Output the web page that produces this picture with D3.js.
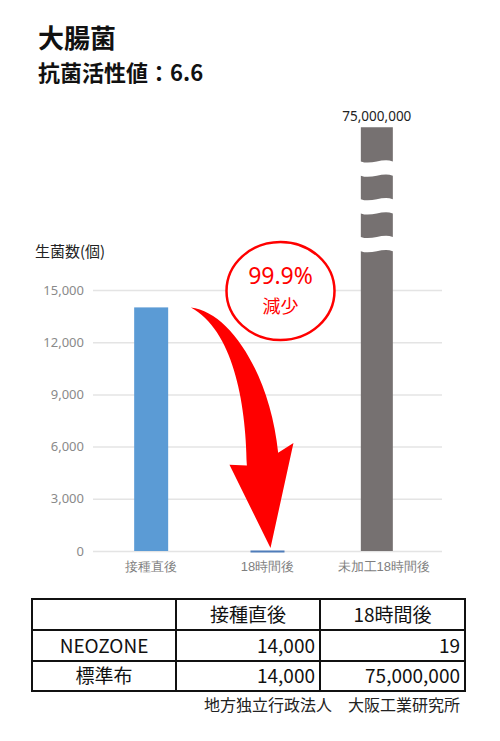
<!DOCTYPE html>
<html>
<head>
<meta charset="utf-8">
<script src="https://cdn.jsdelivr.net/npm/d3@7"></script>
<style>
  body { margin: 0; background: #fff; }
  svg { display: block; font-family: "Noto Sans CJK JP", "Noto Sans", sans-serif; }
</style>
</head>
<body>
<svg id="chart" width="500" height="741"></svg>
<script>
// data
const categories = ['接種直後', '18時間後', '未加工18時間後'];
const counts = [14000, 19, 75000000];
const yTicks = [0, 3000, 6000, 9000, 12000, 15000];
const tableHeader = ['', '接種直後', '18時間後'];
const tableRowNames = ['NEOZONE', '標準布'];
const tableStart = [14000, 14000];
const table18h = [19, 75000000];

const svg = d3.select('#chart');

const plot = {left: 93, right: 442, top: 290, bottom: 551};
const fmt = d3.format(',');

// title
svg.append('text').attr('x', 38).attr('y', 48)
  .style('font-size', '26px').style('font-weight', 700).attr('fill', '#111')
  .text('大腸菌');
svg.append('text').attr('x', 38).attr('y', 81)
  .style('font-size', '22px').style('font-weight', 700).attr('fill', '#111')
  .text('抗菌活性値：6.6');

const x = d3.scaleBand().domain(categories).range([plot.left, plot.right]).padding(0);
const y = d3.scaleLinear().domain([0, 15000]).range([plot.bottom, plot.top]);
const barW = 34;
const cx = c => x(c) + x.bandwidth() / 2;

// y axis + grid
const yAxis = svg.append('g')
  .attr('transform', `translate(${plot.left},0)`)
  .call(d3.axisLeft(y).tickValues(yTicks).tickFormat(fmt)
    .tickSize(-(plot.right - plot.left)).tickPadding(9));
yAxis.select('.domain').remove();
yAxis.selectAll('line').attr('stroke', '#e4e4e4').attr('stroke-width', 1.5);
yAxis.selectAll('text').attr('fill', '#8a8a8a').style('font-size', '13px')
  .style('font-family', '"Noto Sans", sans-serif');

svg.append('text').attr('x', 35).attr('y', 257)
  .style('font-size', '15px').attr('fill', '#222')
  .text('生菌数(個)');

// x axis labels
const xAxis = svg.append('g')
  .attr('transform', `translate(0,${plot.bottom})`)
  .call(d3.axisBottom(x).tickSize(0).tickPadding(11));
xAxis.select('.domain').remove();
xAxis.selectAll('text').attr('fill', '#7f7f7f').style('font-size', '13px');

// bars on scale
const normal = categories.slice(0, 2).map((c, i) => ({c, v: counts[i]}));
svg.selectAll('.bar')
  .data(normal)
  .enter().append('rect')
  .attr('class', 'bar')
  .attr('x', d => cx(d.c) - barW / 2)
  .attr('width', barW)
  .attr('y', d => {
    const h = Math.max(y(0) - y(d.v), 2);
    return d.v < 100 ? y(0) - 0.5 : y(0) - h;
  })
  .attr('height', d => Math.max(y(0) - y(d.v), 2))
  .attr('fill', d => d.v < 100 ? '#4f7dba' : '#5b9bd5');

// broken bar for the off-scale value
const brokenShift = -7;
const brokenTop = 24350;          // display height of the truncated bar
const breaks = [21980, 19810, 17640];
const gapHalf = 410;
const bx0 = cx(categories[2]) + brokenShift - 16;
const bx1 = bx0 + 32;
const bw = bx1 - bx0;
const wave = 4;

let segs = [];
let segTop = brokenTop;
breaks.forEach(b => {
  segs.push([segTop, b + gapHalf, segTop !== brokenTop]);
  segTop = b - gapHalf;
});
segs.push([segTop, 0, true]);

function segPath(s) {
  const yt = y(s[0]), yb = y(s[1]);
  const p = d3.path();
  p.moveTo(bx0, yt);
  if (s[2]) p.bezierCurveTo(bx0 + bw / 3, yt + wave, bx0 + 2 * bw / 3, yt - wave, bx1, yt);
  else p.lineTo(bx1, yt);
  p.lineTo(bx1, yb);
  if (s[1] > 0) p.bezierCurveTo(bx0 + 2 * bw / 3, yb - wave, bx0 + bw / 3, yb + wave, bx0, yb);
  else p.lineTo(bx0, yb);
  p.closePath();
  return p.toString();
}
svg.selectAll('.seg')
  .data(segs)
  .enter().append('path')
  .attr('class', 'seg')
  .attr('d', segPath)
  .attr('fill', '#767171');

svg.append('text')
  .attr('x', (bx0 + bx1) / 2).attr('y', y(brokenTop) - 6)
  .attr('text-anchor', 'middle')
  .style('font-size', '13.5px').style('font-family', '"Noto Sans", sans-serif')
  .attr('fill', '#222')
  .text(fmt(counts[2]));

// curved arrow from first bar to second
const sx = cx(categories[0]) + 39.7, sy = y(counts[0]);
const ar = d3.path();
ar.moveTo(sx, sy);
ar.bezierCurveTo(sx + 39.3, sy + 4.3, sx + 79.3, sy + 67.3, sx + 87.3, sy + 145.3);
ar.lineTo(sx + 102.6, sy + 135.6);
ar.lineTo(cx(categories[1]) + 3, y(0) - 3);
ar.lineTo(sx + 38.6, sy + 157.3);
ar.lineTo(sx + 56, sy + 158);
ar.bezierCurveTo(sx + 55.3, sy + 92.3, sx + 41.3, sy + 22.3, sx, sy);
ar.closePath();
svg.append('path').attr('d', ar.toString()).attr('fill', '#ff0000');

// badge
const ccx = cx(categories[1]) + 13, ccy = y(15000) + 1;
svg.append('ellipse')
  .attr('cx', ccx).attr('cy', ccy).attr('rx', 54).attr('ry', 49)
  .attr('fill', '#fff').attr('stroke', '#ff0000').attr('stroke-width', 2.5);
svg.append('text').attr('x', ccx).attr('y', ccy - 7)
  .attr('text-anchor', 'middle').attr('fill', '#ff0000')
  .style('font-size', '23px').style('font-family', '"Noto Sans", sans-serif')
  .text('99.9%');
svg.append('text').attr('x', ccx).attr('y', ccy + 22)
  .attr('text-anchor', 'middle').attr('fill', '#ff0000')
  .style('font-size', '18px')
  .text('減少');

// table
const colX = [32, 176, 320, 465];
const rowY = [599, 630, 661, 691];
const tbl = svg.append('g');
tbl.append('rect')
  .attr('x', colX[0]).attr('y', rowY[0])
  .attr('width', colX[3] - colX[0]).attr('height', rowY[3] - rowY[0])
  .attr('fill', 'none').attr('stroke', '#111').attr('stroke-width', 2);
colX.slice(1, 3).forEach(cxp => tbl.append('line')
  .attr('x1', cxp).attr('x2', cxp).attr('y1', rowY[0]).attr('y2', rowY[3])
  .attr('stroke', '#111').attr('stroke-width', 2));
rowY.slice(1, 3).forEach(ry => tbl.append('line')
  .attr('x1', colX[0]).attr('x2', colX[3]).attr('y1', ry).attr('y2', ry)
  .attr('stroke', '#111').attr('stroke-width', 2));

const cellText = (txt, col, row, anchor) => {
  const xx = anchor === 'end' ? colX[col + 1] - 5 : (colX[col] + colX[col + 1]) / 2;
  tbl.append('text')
    .attr('x', xx).attr('y', (rowY[row] + rowY[row + 1]) / 2 + 7)
    .attr('text-anchor', anchor)
    .style('font-size', '19px').attr('fill', '#111')
    .text(txt);
};
tableHeader.forEach((h, i) => { if (h) cellText(h, i, 0, 'middle'); });
tableRowNames.forEach((n, i) => {
  cellText(n, 0, i + 1, 'middle');
  cellText(fmt(tableStart[i]), 1, i + 1, 'end');
  cellText(fmt(table18h[i]), 2, i + 1, 'end');
});

svg.append('text').attr('x', 460).attr('y', 711)
  .attr('text-anchor', 'end').style('font-size', '16px').attr('fill', '#222')
  .text('地方独立行政法人　大阪工業研究所');
</script>
</body>
</html>
